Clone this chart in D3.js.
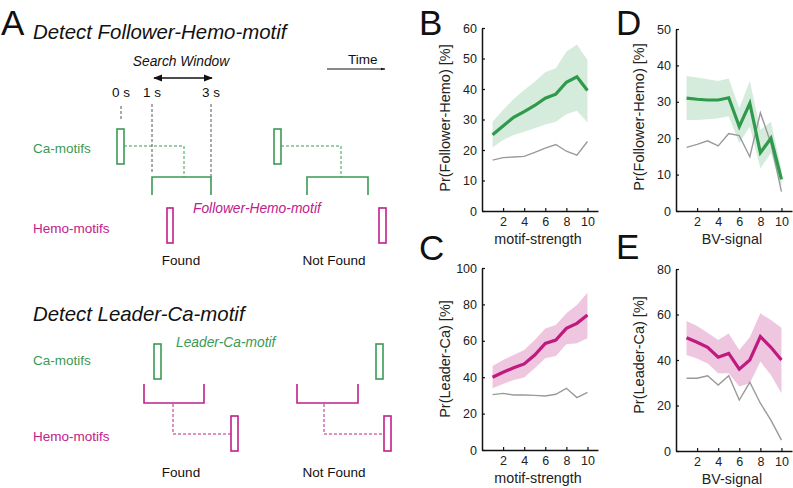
<!DOCTYPE html>
<html>
<head>
<meta charset="utf-8">
<script src="https://cdn.jsdelivr.net/npm/d3@7"></script>
<style>
  html, body { margin: 0; padding: 0; background: #fff; }
  svg { display: block; font-family: "Liberation Sans", Arial, sans-serif; }
</style>
</head>
<body>
<svg id="fig" width="793" height="488"></svg>
<script>
// ---------------- DATA ----------------
const xValues = [1, 2, 3, 4, 5, 6, 7, 8, 9, 10];
const xTickValues = [2, 4, 6, 8, 10];

// Panel B: Pr(Follower-Hemo) vs motif-strength
const bMean   = [25.0, 27.9, 30.7, 32.6, 34.6, 37.0, 38.3, 42.2, 44.0, 39.5];
const bUpper  = [29.3, 33.1, 36.7, 39.7, 42.4, 45.5, 46.8, 52.2, 54.6, 49.5];
const bLower  = [20.8, 23.3, 24.9, 26.0, 27.1, 28.4, 29.3, 31.7, 32.9, 29.0];
const bChance = [16.7, 17.5, 17.7, 17.9, 19.2, 20.6, 21.8, 19.6, 18.3, 22.8];
const bTicks  = [0, 10, 20, 30, 40, 50, 60];

// Panel C: Pr(Leader-Ca) vs motif-strength
const cMean   = [40.0, 42.7, 45.2, 47.3, 52.2, 58.6, 60.4, 66.8, 69.6, 74.2];
const cUpper  = [46.2, 49.5, 52.2, 55.0, 60.4, 66.8, 68.7, 75.1, 79.7, 86.4];
const cLower  = [33.9, 36.3, 38.5, 39.9, 44.9, 50.4, 51.6, 58.1, 58.6, 61.4];
const cChance = [30.4, 31.1, 30.2, 30.2, 30.0, 29.7, 30.6, 33.9, 28.8, 31.7];
const cTicks  = [0, 20, 40, 60, 80, 100];

// Panel D: Pr(Follower-Hemo) vs BV-signal
const dMean   = [31.0, 30.7, 30.5, 30.5, 31.1, 23.2, 29.6, 16.0, 20.0, 8.7];
const dUpper  = [37.1, 36.7, 36.2, 35.7, 36.4, 28.2, 35.7, 22.3, 24.5, 11.5];
const dLower  = [25.0, 25.0, 25.2, 25.5, 26.0, 18.6, 23.2, 11.7, 15.9, 6.5];
const dChance = [17.5, 18.3, 19.3, 17.9, 21.3, 20.7, 14.9, 27.0, 18.6, 5.3];
const dTicks  = [0, 10, 20, 30, 40, 50];

// Panel E: Pr(Leader-Ca) vs BV-signal
const eMean   = [49.8, 47.8, 45.6, 41.2, 42.9, 36.0, 40.0, 50.3, 45.6, 40.0];
const eUpper  = [57.1, 55.0, 52.0, 48.8, 51.7, 44.4, 50.0, 60.5, 57.6, 54.2];
const eLower  = [42.2, 40.7, 38.5, 34.2, 34.2, 28.3, 29.8, 39.3, 33.4, 25.4];
const eChance = [32.0, 32.0, 33.1, 29.0, 33.1, 22.4, 30.2, 21.0, 13.6, 4.8];
const eTicks  = [0, 20, 40, 60, 80];

// ---------------- STYLE ----------------
const GREEN = "#2f9a4b";
const MAGENTA = "#c01a7f";
const GRAY = "#9a9a9a";
const FONT = '"Liberation Sans", Arial, sans-serif';

const svg = d3.select("#fig");

// ---------------- SCHEMATIC (panel A) ----------------
const A = svg.append("g");
const SG = "#3a9a55", SM = "#c0208a";

function txt(x, y, s, opt = {}) {
  return A.append("text").attr("x", x).attr("y", y).text(s)
    .attr("font-size", opt.size || 13.5)
    .attr("font-style", opt.italic ? "italic" : "normal")
    .attr("fill", opt.fill || "#111")
    .attr("text-anchor", opt.anchor || "start");
}
function pathD(d, color, dashed, w) {
  return A.append("path").attr("d", d).attr("fill", "none")
    .attr("stroke", color).attr("stroke-width", w || (dashed ? 1 : 1.6))
    .attr("stroke-dasharray", dashed ? "3,2" : null);
}
function box(x, y, w, h, color) {
  return A.append("rect").attr("x", x).attr("y", y).attr("width", w).attr("height", h)
    .attr("fill", "#fff").attr("stroke", color).attr("stroke-width", 1.6);
}

const defs = svg.append("defs");
defs.append("marker").attr("id", "ah").attr("viewBox", "0 0 10 10")
  .attr("refX", 9).attr("refY", 5).attr("markerWidth", 6).attr("markerHeight", 6)
  .attr("orient", "auto-start-reverse")
  .append("path").attr("d", "M0,1 L10,5 L0,9 Z").attr("fill", "#111");
defs.append("marker").attr("id", "ahs").attr("viewBox", "0 0 10 10")
  .attr("refX", 9).attr("refY", 5).attr("markerWidth", 5).attr("markerHeight", 5)
  .attr("orient", "auto")
  .append("path").attr("d", "M0,2 L10,5 L0,8 Z").attr("fill", "#111");

txt(1, 35, "A", { size: 35 });
txt(33, 39, "Detect Follower-Hemo-motif", { size: 20.4, italic: true });
txt(181, 66, "Search Window", { size: 13.8, italic: true, anchor: "middle" });
A.append("line").attr("x1", 154).attr("x2", 212).attr("y1", 78).attr("y2", 78)
  .attr("stroke", "#111").attr("stroke-width", 1.5)
  .attr("marker-start", "url(#ah)").attr("marker-end", "url(#ah)");
txt(348, 64, "Time", { size: 13.5 });
A.append("line").attr("x1", 327).attr("x2", 385).attr("y1", 69).attr("y2", 69)
  .attr("stroke", "#111").attr("stroke-width", 1)
  .attr("marker-end", "url(#ahs)");
txt(121, 97, "0 s", { anchor: "middle" });
txt(152, 97, "1 s", { anchor: "middle" });
txt(211, 97, "3 s", { anchor: "middle" });
pathD("M121,106 V120", "#555", true);
pathD("M152,104 V172", "#555", true);
pathD("M211,104 V177", "#555", true);

txt(33, 153, "Ca-motifs", { fill: SG });
box(117, 129, 7, 35, SG);
pathD("M124,146 H184 V177", SG, true);
pathD("M152,195 V177 H211 V195", SG, false);
box(274, 129, 7, 35, SG);
pathD("M281,146 H341 V177", SG, true);
pathD("M307,195 V177 H368 V195", SG, false);

txt(193, 213, "Follower-Hemo-motif", { size: 13.8, italic: true, fill: SM });
txt(33, 233, "Hemo-motifs", { fill: SM });
box(167, 208, 6, 35, SM);
box(379, 208, 7, 35, SM);
txt(181, 265, "Found", { anchor: "middle" });
txt(334, 265, "Not Found", { anchor: "middle" });

txt(33, 321, "Detect Leader-Ca-motif", { size: 20.4, italic: true });
txt(176, 347, "Leader-Ca-motif", { size: 13.8, italic: true, fill: SG });
txt(33, 365, "Ca-motifs", { fill: SG });
box(154, 344, 7, 35, SG);
box(376, 344, 7, 35, SG);
pathD("M144,384 V403 H204 V384", SM, false);
pathD("M297,384 V403 H358 V384", SM, false);
pathD("M173,404 V434 H231", SM, true);
pathD("M324,404 V434 H384", SM, true);
txt(33, 441, "Hemo-motifs", { fill: SM });
box(231, 416, 7, 35, SM);
box(384, 416, 7, 35, SM);
txt(181, 477, "Found", { anchor: "middle" });
txt(334, 477, "Not Found", { anchor: "middle" });

// ---------------- LINE PANELS ----------------
const panels = [
  { letter: "B", lx: 419, ly: 35, ox: 482, top: 28, bottom: 211, ymax: 60, ticks: bTicks,
    mean: bMean, upper: bUpper, lower: bLower, chance: bChance, color: GREEN, bandOp: 0.2,
    ylabel: "Pr(Follower-Hemo) [%]", xlabel: "motif-strength", ylabCy: 118 },
  { letter: "C", lx: 419, ly: 260, ox: 482, top: 268, bottom: 450, ymax: 100, ticks: cTicks,
    mean: cMean, upper: cUpper, lower: cLower, chance: cChance, color: MAGENTA, bandOp: 0.25,
    ylabel: "Pr(Leader-Ca) [%]", xlabel: "motif-strength", ylabCy: 359 },
  { letter: "D", lx: 616, ly: 35, ox: 676, top: 29, bottom: 211, ymax: 50, ticks: dTicks,
    mean: dMean, upper: dUpper, lower: dLower, chance: dChance, color: GREEN, bandOp: 0.2,
    ylabel: "Pr(Follower-Hemo) [%]", xlabel: "BV-signal", ylabCy: 117 },
  { letter: "E", lx: 616, ly: 259, ox: 676, top: 269, bottom: 451, ymax: 80, ticks: eTicks,
    mean: eMean, upper: eUpper, lower: eLower, chance: eChance, color: MAGENTA, bandOp: 0.25,
    ylabel: "Pr(Leader-Ca) [%]", xlabel: "BV-signal", ylabCy: 355 }
];

panels.forEach(p => {
  const g = svg.append("g");
  const x = d3.scaleLinear().domain([0, 11]).range([p.ox, p.ox + 116]);
  const y = d3.scaleLinear().domain([0, p.ymax]).range([p.bottom, p.top]);
  const rows = xValues.map((v, i) => ({ x: v, m: p.mean[i], u: p.upper[i], l: p.lower[i], c: p.chance[i] }));

  g.append("path").datum(rows)
    .attr("d", d3.area().x(d => x(d.x)).y0(d => y(d.l)).y1(d => y(d.u)))
    .attr("fill", p.color).attr("fill-opacity", p.bandOp).attr("stroke", "none");
  g.append("path").datum(rows)
    .attr("d", d3.line().x(d => x(d.x)).y(d => y(d.c)))
    .attr("fill", "none").attr("stroke", GRAY).attr("stroke-width", 1.4);
  g.append("path").datum(rows)
    .attr("d", d3.line().x(d => x(d.x)).y(d => y(d.m)))
    .attr("fill", "none").attr("stroke", p.color).attr("stroke-width", 3.2)
    .attr("stroke-linejoin", "miter");

  const ya = g.append("g").attr("transform", `translate(${p.ox},0)`)
    .call(d3.axisLeft(y).tickValues(p.ticks).tickSizeInner(-3).tickSizeOuter(0).tickPadding(5));
  const xa = g.append("g").attr("transform", `translate(0,${p.bottom})`)
    .call(d3.axisBottom(x).tickValues(xTickValues).tickSizeInner(-3).tickSizeOuter(0).tickPadding(6));
  [ya, xa].forEach(a => {
    a.select(".domain").attr("stroke", "#111").attr("stroke-width", 1.5);
    a.selectAll(".tick line").attr("stroke", "#111").attr("stroke-width", 1.2);
    a.selectAll(".tick text").attr("font-size", 12.5).attr("font-family", FONT).attr("fill", "#222");
  });

  g.append("text").attr("x", (p.ox + p.ox + 116) / 2 - 2).attr("y", p.bottom + 33)
    .attr("text-anchor", "middle").attr("font-size", 14.3).attr("fill", "#222").text(p.xlabel);
  g.append("text").attr("transform", `translate(${p.ox - 32},${p.ylabCy}) rotate(-90)`)
    .attr("text-anchor", "middle").attr("font-size", 14.5).attr("fill", "#222").text(p.ylabel);
  g.append("text").attr("x", p.lx).attr("y", p.ly).attr("font-size", 35).attr("fill", "#111").text(p.letter);
});
</script>
</body>
</html>
